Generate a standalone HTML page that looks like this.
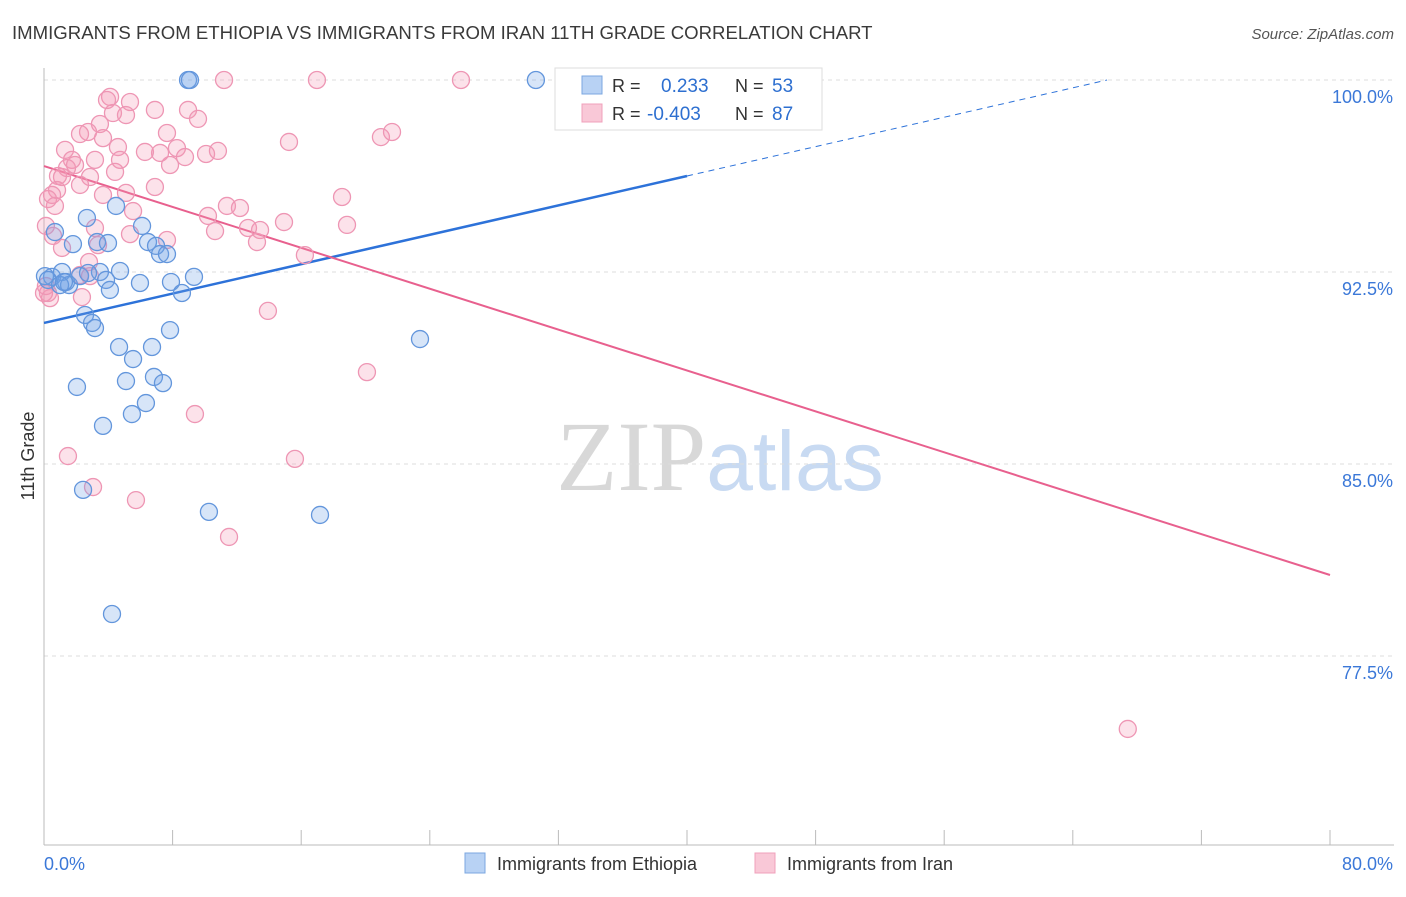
<!DOCTYPE html>
<html><head><meta charset="utf-8"><style>
body{margin:0;background:#fff;font-family:"Liberation Sans",sans-serif}
</style></head><body>
<svg id="chart" width="1406" height="892" xmlns="http://www.w3.org/2000/svg" font-family="Liberation Sans, sans-serif">
<text x="12" y="39" font-size="18.6" fill="#3a3a3a">IMMIGRANTS FROM ETHIOPIA VS IMMIGRANTS FROM IRAN 11TH GRADE CORRELATION CHART</text>
<text x="1394" y="39" font-size="15" fill="#555" text-anchor="end" font-style="italic">Source: ZipAtlas.com</text>
<text x="720" y="490" font-size="100" text-anchor="middle"><tspan fill="#d8d8d8" font-family="Liberation Serif, serif">ZIP</tspan><tspan fill="#c8daf2" font-size="84">atlas</tspan></text>
<text x="34" y="456" font-size="18" fill="#333" text-anchor="middle" transform="rotate(-90 34 456)">11th Grade</text>
<g id="grid"></g><g id="axes"></g><g id="lines"></g><g id="pts"></g>
<g>
<rect x="555" y="68" width="267" height="62" fill="#fff" stroke="#ddd"/>
<rect x="582" y="76" width="20" height="18" fill="#b8d2f4" stroke="#7ba7e0"/>
<rect x="582" y="104" width="20" height="18" fill="#f9c8d7" stroke="#f0a0bb"/>
<text x="612" y="92" font-size="18" fill="#333">R =</text><text x="661" y="92" font-size="19" fill="#2d6fd0">0.233</text>
<text x="735" y="92" font-size="18" fill="#333">N =</text><text x="772" y="92" font-size="19" fill="#2d6fd0">53</text>
<text x="612" y="120" font-size="18" fill="#333">R =</text><text x="647" y="120" font-size="19" fill="#2d6fd0">-0.403</text>
<text x="735" y="120" font-size="18" fill="#333">N =</text><text x="772" y="120" font-size="19" fill="#2d6fd0">87</text>
</g>
<g>
<rect x="465" y="853" width="20" height="20" fill="#b8d2f4" stroke="#7ba7e0"/>
<text x="497" y="870" font-size="18" fill="#333">Immigrants from Ethiopia</text>
<rect x="755" y="853" width="20" height="20" fill="#f9c8d7" stroke="#f0a0bb"/>
<text x="787" y="870" font-size="18" fill="#333">Immigrants from Iran</text>
</g>
</svg>
<script>
const yTicks=[100,92.5,85,77.5];
const yTickLabels=["100.0%","92.5%","85.0%","77.5%"];
const xTickLabels=["0.0%","80.0%"];
const ethX=[8.96,9.08,30.6,33.0,2.67,4.48,6.10,0.68,1.80,3.30,3.98,6.47,6.97,7.22,7.65,0.50,1.12,1.37,1.56,2.24,3.48,3.86,4.10,4.73,5.97,7.90,9.33,8.58,2.55,2.99,3.17,4.67,6.72,7.84,5.54,5.10,6.84,7.40,2.05,6.34,5.47,3.67,23.39,2.43,10.26,17.17,4.23,0.06,0.25,1.0,2.74,1.24];
const ethY=[100,100,100,100,94.61,95.08,94.30,94.06,93.59,93.67,93.63,93.67,93.52,93.20,93.20,92.31,92.50,92.11,91.99,92.34,92.50,92.19,91.80,92.54,92.07,92.11,92.31,91.68,90.82,90.51,90.31,89.57,89.57,90.23,89.10,88.24,88.40,88.16,88.01,87.38,86.95,86.49,89.88,83.99,83.13,83.01,79.14,92.34,92.19,91.99,92.46,92.11];
const iranX=[11.20,16.98,25.94,4.11,5.35,6.90,8.96,4.29,5.10,9.58,3.48,2.74,2.24,7.65,20.96,21.65,15.24,1.31,4.60,8.27,7.22,6.28,10.08,10.82,1.74,3.17,4.73,8.77,7.84,1.43,0.87,2.86,4.42,2.24,0.81,5.10,3.67,6.90,0.25,18.54,11.38,12.19,5.54,10.20,14.93,18.85,10.64,12.69,13.44,0.12,0.56,5.35,3.17,7.65,3.36,1.12,13.25,16.23,2.80,2.86,2.24,0.25,0.37,2.36,13.93,20.09,9.39,1.49,15.61,3.05,5.72,11.51,67.42,0,0.12,0.50,0.68,1.12,3.67,1.93,3.92];
const iranY=[100,100,100,99.34,99.14,98.83,98.83,98.71,98.63,98.48,98.28,97.97,97.89,97.93,97.77,97.97,97.58,97.27,97.38,97.34,97.15,97.19,97.11,97.23,96.88,96.88,96.88,96.99,96.68,96.56,96.25,96.21,96.41,95.90,95.70,95.59,95.51,95.82,95.35,95.43,95.08,95.0,94.88,94.69,94.45,94.34,94.10,94.22,94.14,94.30,93.91,93.98,94.22,93.75,93.55,93.44,93.67,93.16,92.89,92.34,92.38,91.68,91.48,91.52,90.98,88.59,86.95,85.31,85.20,84.10,83.59,82.15,74.65,91.68,91.95,95.51,95.08,96.21,97.73,96.68,99.22];
const ethTrend=[90.51,0.1435];
const iranTrend=[96.64,-0.1997];
const NS="http://www.w3.org/2000/svg";
const X=v=>44+v/80*1286, Y=v=>80+(100-v)/7.5*192;
function mk(t,a,p){const e=document.createElementNS(NS,t);for(const k in a)e.setAttribute(k,a[k]);document.getElementById(p).appendChild(e);return e;}
yTicks.forEach((t,i)=>{
 const g=mk('line',{x1:44,x2:1394,y1:Y(t),y2:Y(t),stroke:'#ddd','stroke-dasharray':'4,4'},'grid');
 
 
 const l=mk('text',{x:1393,y:Y(t)+23,'font-size':18,fill:'#3b78d8','text-anchor':'end'},'axes');l.textContent=yTickLabels[i];
 
 
});
mk('line',{x1:44,x2:44,y1:68,y2:845,stroke:'#bbb'},'axes');
mk('line',{x1:44,x2:1394,y1:845,y2:845,stroke:'#bbb'},'axes');
for(let i=0;i<=10;i++){const t=mk('line',{x1:X(i*8),x2:X(i*8),y1:830,y2:845,stroke:'#bbb'},'axes');
 
 }
[[44,'start'],[1393,'end']].forEach((p,i)=>{const t=mk('text',{x:p[0],y:870,'font-size':18,fill:'#3b78d8','text-anchor':p[1]},'axes');t.textContent=xTickLabels[i];
 
 });
function pts(xs,ys,fill,stroke,name){xs.forEach((x,i)=>{const c=mk('circle',{cx:X(x),cy:Y(ys[i]),r:8.5,fill:fill,stroke:stroke,'stroke-width':1.3},'pts');
 
 });}
pts(iranX,iranY,'rgba(245,150,180,0.28)','#ee96b4','iran-point');
pts(ethX,ethY,'rgba(110,160,230,0.28)','#6396dc','ethiopia-point');
const tr=(c,x)=>c[0]+c[1]*x;
let l1=mk('line',{x1:X(0),y1:Y(tr(ethTrend,0)),x2:X(40),y2:Y(tr(ethTrend,40)),stroke:'#2d72d9','stroke-width':2.5},'lines');


const xe=(100-ethTrend[0])/ethTrend[1];
let l2=mk('line',{x1:X(40),y1:Y(tr(ethTrend,40)),x2:X(xe),y2:Y(100),stroke:'#2d72d9','stroke-width':1,'stroke-dasharray':'6,5'},'lines');


let l3=mk('line',{x1:X(0),y1:Y(tr(iranTrend,0)),x2:X(80),y2:Y(tr(iranTrend,80)),stroke:'#e8608e','stroke-width':2},'lines');


</script>
</body></html>
